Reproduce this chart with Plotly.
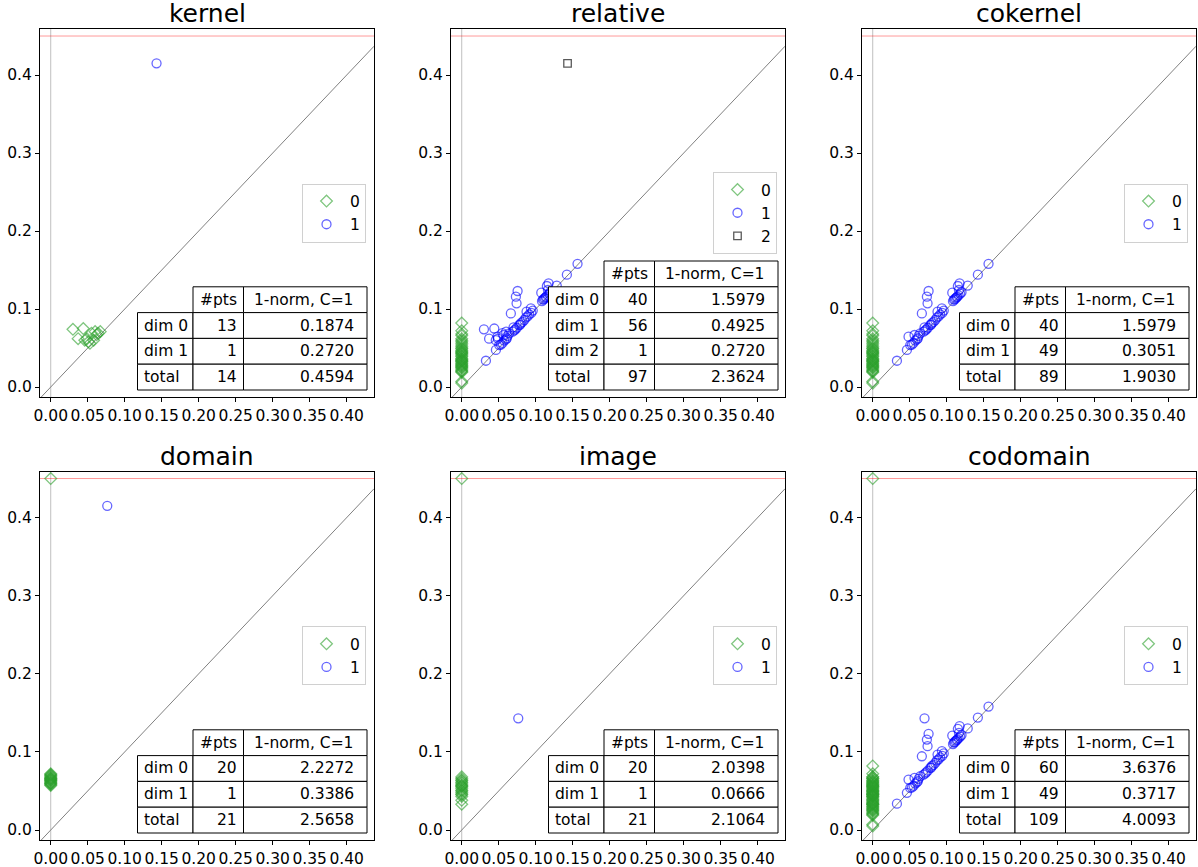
import plotly.graph_objects as go

W, H = 1198, 867
FONT = "DejaVu Sans"

# ---------------- data ----------------
titles = ["kernel", "relative", "cokernel", "domain", "image", "codomain"]
INF_LEVEL = 0.45  # level used to draw infinite bars

# kernel
kernel_d0_birth = [0.030, 0.044, 0.037, 0.046, 0.051, 0.055, 0.060, 0.067, 0.062, 0.053, 0.058, 0.049, 0.064]
kernel_d0_death = [0.074, 0.075, 0.062, 0.060, 0.058, 0.069, 0.071, 0.071, 0.067, 0.056, 0.060, 0.062, 0.069]
kernel_d1_birth = [0.1430]
kernel_d1_death = [0.4150]

# cokernel / relative dimension 0 (all born at 0)
cok_d0_death = [0.082, 0.072, 0.068, 0.066, 0.062, 0.060, 0.058, 0.056, 0.054, 0.052,
                0.050, 0.049, 0.047, 0.045, 0.044, 0.042, 0.040, 0.039, 0.037, 0.036,
                0.034, 0.033, 0.031, 0.030, 0.029, 0.028, 0.027, 0.026, 0.025, 0.024,
                0.022, 0.021, 0.020, 0.019, 0.033, 0.046, 0.043, 0.035, 0.007, 0.005]

# dimension 1 points shared by cokernel and codomain
shared_d1_birth = [0.0664, 0.0732, 0.0741, 0.0755,
                   0.0484, 0.0565, 0.0642, 0.1075, 0.1151, 0.1174, 0.1165, 0.0876, 0.0935,
                   0.0327, 0.0462, 0.0507, 0.0530, 0.0552, 0.0574, 0.0597, 0.0610, 0.0619, 0.0687,
                   0.0710, 0.0725, 0.0745, 0.0777, 0.0790, 0.0800, 0.0822, 0.0845, 0.0867, 0.0890,
                   0.0912, 0.0940, 0.0960, 0.1085, 0.1097, 0.1110, 0.1120, 0.1135, 0.1142, 0.1160,
                   0.1182, 0.1200, 0.1284, 0.1421, 0.1565]
shared_d1_death = [0.0944, 0.1158, 0.1073, 0.1231,
                   0.0645, 0.0667, 0.0688, 0.1209, 0.1295, 0.1329, 0.1244, 0.0966, 0.1009,
                   0.0337, 0.0476, 0.0538, 0.0545, 0.0565, 0.0595, 0.0610, 0.0625, 0.0655, 0.0710,
                   0.0725, 0.0740, 0.0760, 0.0795, 0.0800, 0.0820, 0.0835, 0.0859, 0.0890, 0.0905,
                   0.0930, 0.0950, 0.0980, 0.1100, 0.1120, 0.1125, 0.1140, 0.1150, 0.1160, 0.1175,
                   0.1197, 0.1215, 0.1300, 0.1440, 0.1580]
cok_extra_d1_birth = [0.0700]
cok_extra_d1_death = [0.0764]
codom_extra_d1_birth = [0.0700]
codom_extra_d1_death = [0.1430]

# kernel dim-0 points that also appear in the relative dim-1 diagram
rel_extra_d1_birth = [0.030, 0.044, 0.037, 0.046, 0.049, 0.055, 0.060]
rel_extra_d1_death = [0.074, 0.075, 0.062, 0.060, 0.062, 0.069, 0.071]

rel_d2_birth = [0.1430]
rel_d2_death = [0.4150]

# domain
domain_d0_death = [INF_LEVEL, 0.072, 0.071, 0.070, 0.069, 0.068, 0.067, 0.066, 0.066, 0.065, 0.064,
                   0.064, 0.063, 0.062, 0.061, 0.060, 0.060, 0.059, 0.058, 0.057]
domain_d1_birth = [0.0764]
domain_d1_death = [0.4150]

# image
image_d0_death = [INF_LEVEL, 0.068, 0.066, 0.064, 0.063, 0.061, 0.060, 0.058, 0.057, 0.056, 0.055,
                  0.053, 0.051, 0.050, 0.048, 0.046, 0.045, 0.043, 0.038, 0.033]
image_d1_birth = [0.0764]
image_d1_death = [0.1430]

# tables
labels_3 = ["dim 0", "dim 1", "total"]
labels_4 = ["dim 0", "dim 1", "dim 2", "total"]
table_header = ["#pts", "1-norm, C=1"]
kernel_counts, kernel_norms = ["13", "1", "14"], ["0.1874", "0.2720", "0.4594"]
rel_counts, rel_norms = ["40", "56", "1", "97"], ["1.5979", "0.4925", "0.2720", "2.3624"]
cok_counts, cok_norms = ["40", "49", "89"], ["1.5979", "0.3051", "1.9030"]
domain_counts, domain_norms = ["20", "1", "21"], ["2.2272", "0.3386", "2.5658"]
image_counts, image_norms = ["20", "1", "21"], ["2.0398", "0.0666", "2.1064"]
codom_counts, codom_norms = ["60", "49", "109"], ["3.6376", "0.3717", "4.0093"]

x_ticks = [0.0, 0.05, 0.10, 0.15, 0.20, 0.25, 0.30, 0.35, 0.40]
y_ticks = [0.0, 0.1, 0.2, 0.3, 0.4]


def zeros_like(a):
    return [0.0 for _ in a]


panels = [
    dict(series=[(0, kernel_d0_birth, kernel_d0_death), (1, kernel_d1_birth, kernel_d1_death)],
         table=(labels_3, kernel_counts, kernel_norms)),
    dict(series=[(0, zeros_like(cok_d0_death), cok_d0_death),
                 (1, shared_d1_birth + cok_extra_d1_birth + rel_extra_d1_birth,
                  shared_d1_death + cok_extra_d1_death + rel_extra_d1_death),
                 (2, rel_d2_birth, rel_d2_death)],
         table=(labels_4, rel_counts, rel_norms)),
    dict(series=[(0, zeros_like(cok_d0_death), cok_d0_death),
                 (1, shared_d1_birth + cok_extra_d1_birth, shared_d1_death + cok_extra_d1_death)],
         table=(labels_3, cok_counts, cok_norms)),
    dict(series=[(0, zeros_like(domain_d0_death), domain_d0_death), (1, domain_d1_birth, domain_d1_death)],
         table=(labels_3, domain_counts, domain_norms)),
    dict(series=[(0, zeros_like(image_d0_death), image_d0_death), (1, image_d1_birth, image_d1_death)],
         table=(labels_3, image_counts, image_norms)),
    dict(series=[(0, zeros_like(cok_d0_death + image_d0_death), cok_d0_death + image_d0_death),
                 (1, shared_d1_birth + codom_extra_d1_birth, shared_d1_death + codom_extra_d1_death)],
         table=(labels_3, codom_counts, codom_norms)),
]

# ---------------- layout geometry (pixels) ----------------
COL_X = [(40, 374), (451, 785), (862, 1196)]
ROW_Y = [(29, 397), (471.5, 840)]
X_RANGE = [-0.0145, 0.4369]
Y_RANGE = [-0.0128, 0.459]

STYLE = {
    0: dict(symbol="diamond-open", color="rgba(44,160,44,0.6)", size=9),
    1: dict(symbol="circle-open", color="rgba(0,0,255,0.6)", size=9),
    2: dict(symbol="square-open", color="rgba(0,0,0,0.65)", size=7.5),
}
TXT = 15.5


def px(x):
    return x / W


def py(y):
    return 1 - y / H


fig = go.Figure()
shapes = []
annotations = []
layout = dict(width=W, height=H, margin=dict(l=0, r=0, t=0, b=0, autoexpand=False),
              plot_bgcolor="white", paper_bgcolor="white",
              font=dict(family=FONT, size=TXT, color="black"), showlegend=True)

for i, (title, panel) in enumerate(zip(titles, panels)):
    col, row = i % 3, i // 3
    x0, x1 = COL_X[col]
    y0, y1 = ROW_Y[row]
    k = "" if i == 0 else str(i + 1)
    xa, ya = "x" + k, "y" + k
    leg = "legend" + k

    axis_common = dict(showline=True, mirror=True, linecolor="black", linewidth=1.2,
                       ticks="outside", ticklen=4, tickwidth=1, tickcolor="black",
                       showgrid=False, zeroline=False, tickangle=0, automargin=False,
                       tickfont=dict(family=FONT, size=TXT, color="black"))
    layout["xaxis" + k] = dict(domain=[px(x0), px(x1)], range=X_RANGE, anchor=ya,
                               tickvals=x_ticks, ticktext=[f"{v:.2f}" for v in x_ticks], **axis_common)
    layout["yaxis" + k] = dict(domain=[py(y1), py(y0)], range=Y_RANGE, anchor=xa,
                               tickvals=y_ticks, ticktext=[f"{v:.1f}" for v in y_ticks], **axis_common)

    # reference lines
    fig.add_trace(go.Scatter(x=[0, 0], y=Y_RANGE, mode="lines", xaxis=xa, yaxis=ya,
                             line=dict(color="rgba(128,128,128,0.5)", width=1),
                             showlegend=False, hoverinfo="skip"))
    fig.add_trace(go.Scatter(x=X_RANGE, y=[INF_LEVEL, INF_LEVEL], mode="lines", xaxis=xa, yaxis=ya,
                             line=dict(color="rgba(255,0,0,0.4)", width=1),
                             showlegend=False, hoverinfo="skip"))
    fig.add_trace(go.Scatter(x=X_RANGE, y=X_RANGE, mode="lines", xaxis=xa, yaxis=ya,
                             line=dict(color="rgb(128,128,128)", width=1),
                             showlegend=False, hoverinfo="skip"))

    for dim, births, deaths in panel["series"]:
        st = STYLE[dim]
        fig.add_trace(go.Scatter(x=births, y=deaths, mode="markers", name=str(dim),
                                 xaxis=xa, yaxis=ya, legend=leg,
                                 marker=dict(symbol=st["symbol"], size=st["size"], color=st["color"],
                                             line=dict(width=1.3, color=st["color"]))))

    layout[leg] = dict(x=px(x1 - 8), xanchor="right", y=py((y0 + y1) / 2), yanchor="middle",
                       xref="paper", yref="paper", bgcolor="rgba(255,255,255,0.8)",
                       bordercolor="#d0d0d0", borderwidth=1, itemwidth=37, tracegroupgap=0,
                       font=dict(family=FONT, size=TXT, color="black"))

    # title
    annotations.append(dict(text=title, x=px((x0 + x1) / 2), y=py(y0 - 15), xref="paper", yref="paper",
                            xanchor="center", yanchor="middle", showarrow=False,
                            font=dict(family=FONT, size=25, color="black")))

    # table
    labels, counts, norms = panel["table"]
    widths = [55.5, 50.5, 123.5]
    rh = 25.8
    right = x1 - 7
    bottom = y1 - 7
    xs = [right - sum(widths), right - widths[1] - widths[2], right - widths[2], right]
    n = len(labels)
    top = bottom - rh * (n + 1)

    def cell(cx0, cy0, cx1, cy1):
        shapes.append(dict(type="rect", xref="paper", yref="paper", x0=px(cx0), x1=px(cx1),
                           y0=py(cy1), y1=py(cy0), line=dict(color="black", width=1),
                           fillcolor="white", layer="above"))

    def text(t, x, y, anchor):
        annotations.append(dict(text=t, x=px(x), y=py(y), xref="paper", yref="paper",
                                xanchor=anchor, yanchor="middle", showarrow=False,
                                borderpad=0, font=dict(family=FONT, size=TXT, color="black")))

    for c in (1, 2):
        cell(xs[c], top, xs[c + 1], top + rh)
        text(table_header[c - 1], xs[c + 1] - 0.1 * widths[c], top + rh / 2, "right")
    for r in range(n):
        ry0 = top + rh * (r + 1)
        for c in range(3):
            cell(xs[c], ry0, xs[c + 1], ry0 + rh)
        text(labels[r], xs[0] + 0.1 * widths[0], ry0 + rh / 2, "left")
        text(counts[r], xs[2] - 0.1 * widths[1], ry0 + rh / 2, "right")
        text(norms[r], xs[3] - 0.1 * widths[2], ry0 + rh / 2, "right")

layout["shapes"] = shapes
layout["annotations"] = annotations
fig.update_layout(**layout)
fig.write_html("out.html", config={"displayModeBar": False},
               post_script="document.body.style.margin='0';document.body.style.overflow='hidden';")
